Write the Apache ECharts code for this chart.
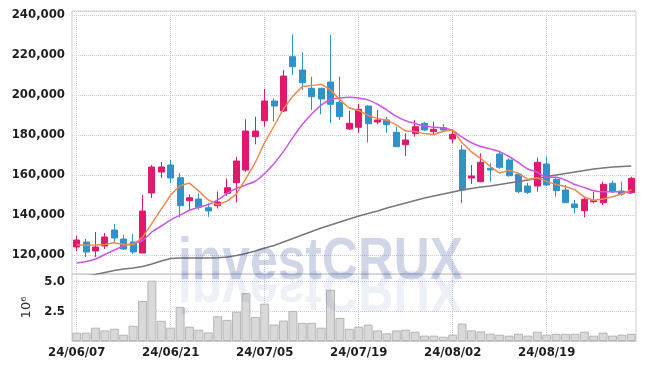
<!DOCTYPE html>
<html>
<head>
<meta charset="utf-8">
<script src="https://cdn.jsdelivr.net/npm/echarts@6/dist/echarts.min.js"></script>
<style>
html, body { margin: 0; padding: 0; background: #fff; }
#chart { width: 645px; height: 368px; }
</style>
</head>
<body>
<div id="chart"></div>
<script>
// 거래일 (24/06/07 ~ 24/08/30)
const dates = [
    '24/06/07', '24/06/10', '24/06/11', '24/06/12', '24/06/13', '24/06/14', '24/06/17', '24/06/18', '24/06/19', '24/06/20',
    '24/06/21', '24/06/24', '24/06/25', '24/06/26', '24/06/27', '24/06/28', '24/07/01', '24/07/02', '24/07/03', '24/07/04',
    '24/07/05', '24/07/08', '24/07/09', '24/07/10', '24/07/11', '24/07/12', '24/07/15', '24/07/16', '24/07/17', '24/07/18',
    '24/07/19', '24/07/22', '24/07/23', '24/07/24', '24/07/25', '24/07/26', '24/07/29', '24/07/30', '24/07/31', '24/08/01',
    '24/08/02', '24/08/05', '24/08/06', '24/08/07', '24/08/08', '24/08/09', '24/08/12', '24/08/13', '24/08/14', '24/08/16',
    '24/08/19', '24/08/20', '24/08/21', '24/08/22', '24/08/23', '24/08/26', '24/08/27', '24/08/28', '24/08/29', '24/08/30'
];

// 시가 / 종가 / 저가 / 고가
const openP = [
    124000, 126500, 122000, 124500, 132500, 128000, 126500, 121000, 151000, 161500,
    165000, 158650, 147150, 148000, 143650, 144650, 150850, 156150, 162500, 179150,
    187150, 197000, 192000, 219150, 212500, 203350, 203350, 206500, 196350, 183000,
    183850, 194500, 186500, 187500, 181350, 175150, 180650, 185850, 181650, 183650,
    178000, 172500, 158500, 156650, 163350, 170500, 167500, 160350, 154500, 154500,
    165500, 157850, 152500, 145500, 142150, 146650, 146150, 155850, 152000, 151150
];
const closeP = [
    127500, 121500, 124000, 129000, 128500, 123000, 121500, 142000, 164000, 164000,
    158500, 144650, 148650, 143850, 142000, 146500, 153650, 167000, 182000, 182000,
    197000, 194500, 209500, 214150, 206150, 199150, 198000, 195350, 189150, 185850,
    192850, 185650, 187500, 185150, 174150, 177500, 184150, 182500, 182850, 182500,
    180350, 152500, 159500, 166350, 162500, 163850, 159650, 151650, 151350, 166350,
    155000, 152150, 146150, 143650, 147850, 147150, 155350, 151650, 150500, 158350
];
const lowP = [
    122000, 119000, 119000, 123000, 126500, 122500, 120500, 121000, 148500, 158500,
    156000, 138800, 142500, 142500, 139100, 143300, 149650, 146350, 161650, 175350,
    184150, 186650, 191500, 210000, 202500, 192500, 190350, 185850, 187500, 182500,
    181150, 176150, 185350, 181150, 174000, 169500, 179150, 182000, 180000, 182000,
    175850, 145850, 155500, 156350, 156650, 163000, 159150, 150850, 150500, 151650,
    154500, 149150, 146000, 140850, 138850, 145850, 145000, 151000, 149650, 150800
];
const highP = [
    129500, 128000, 131500, 131000, 135500, 130000, 130500, 150000, 165000, 166500,
    167500, 161000, 150300, 150800, 145800, 151800, 158300, 169150, 187850, 189150,
    203000, 198350, 212500, 230350, 221350, 209150, 203500, 230000, 209150, 192150,
    195500, 194850, 192500, 189150, 184150, 180850, 187500, 186650, 186650, 185500,
    182500, 175000, 165000, 170850, 165850, 172150, 168350, 160850, 156150, 168650,
    169150, 159150, 155000, 147500, 149150, 151650, 156650, 157150, 156650, 159150
];

// 이동평균 (5일, 10일, 60일)
const ma5 = [
    125000, 124900, 125000, 125200, 126100, 125200, 125200, 128800, 135800, 142900,
    150000, 154630, 155960, 151930, 147530, 145130, 146930, 150600, 158230, 166230,
    176330, 184500, 193000, 199430, 204260, 204690, 205390, 202560, 197560, 193500,
    192240, 189770, 188200, 187400, 185060, 181990, 181690, 180690, 180230, 181900,
    182470, 176140, 171540, 168240, 164240, 160940, 162370, 160800, 157800, 158570,
    156800, 155300, 154200, 152660, 148960, 147390, 148030, 149130, 150500, 152600
];
const ma10 = [
    116000, 116750, 118000, 120250, 122500, 124500, 125750, 127250, 131500, 134500,
    137600, 139915, 142380, 143865, 145215, 147565, 150780, 153280, 155080, 156880,
    160730, 165715, 171800, 178830, 185245, 190510, 194945, 197780, 198495, 198880,
    198465, 197580, 195380, 192480, 189280, 187115, 185730, 184445, 183815, 183480,
    182230, 178915, 176115, 174235, 173070, 171705, 169255, 166170, 163020, 161405,
    158870, 158835, 157500, 155230, 153765, 152095, 151665, 151665, 151580, 150780
];
const ma60 = [
    108000, 109500, 110250, 111250, 112250, 113000, 113500, 114250, 115500, 117000,
    118250, 118500, 118500, 118500, 118500, 118600, 119000, 119750, 120750, 122000,
    123500, 124750, 126500, 128250, 130000, 131750, 133500, 135000, 136500, 138000,
    139500, 140750, 142000, 143500, 144750, 146000, 147250, 148500, 149500, 150500,
    151500, 152500, 153250, 154000, 154500, 155250, 156000, 156750, 157500, 158250,
    159250, 160000, 160750, 161500, 162250, 163000, 163500, 164000, 164250, 164500
];

// 거래량 (백만 주)
const volume = [
    0.70, 0.70, 1.12, 0.89, 1.03, 0.53, 1.28, 3.37, 5.08, 1.70,
    1.12, 2.87, 1.20, 0.95, 0.72, 2.08, 1.78, 2.47, 4.03, 2.03,
    3.14, 1.39, 1.72, 2.53, 1.53, 1.53, 1.12, 4.31, 1.95, 1.03,
    1.20, 1.37, 0.89, 0.64, 0.89, 0.95, 0.78, 0.45, 0.45, 0.36,
    0.53, 1.47, 0.89, 0.81, 0.61, 0.53, 0.45, 0.61, 0.45, 0.78,
    0.53, 0.61, 0.61, 0.61, 0.78, 0.45, 0.70, 0.45, 0.53, 0.61
];

const UP = '#e2186c';
const DOWN = '#2f93c9';
const labelFont = {
    fontFamily: '"DejaVu Sans Condensed", "DejaVu Sans", sans-serif',
    fontWeight: 'bold',
    fontSize: 13,
    color: '#1e1e1e'
};
const dotted = { color: '#c9cde0', type: 'dotted', width: 1 };

const chart = echarts.init(document.getElementById('chart'));
const option = {
    animation: false,
    grid: [
        { left: 72, right: 9, top: 11, height: 263, show: true, borderColor: '#cfcfcf', borderWidth: 1 },
        { left: 72, right: 9, top: 274, height: 67, show: true, borderColor: '#cfcfcf', borderWidth: 1 }
    ],
    xAxis: [
        {
            type: 'category',
            gridIndex: 0,
            data: dates,
            boundaryGap: true,
            axisLine: { show: false },
            axisTick: { show: false, interval: 9, alignWithLabel: true },
            axisLabel: { show: false, interval: 9 },
            splitLine: { show: true, interval: 9, alignWithLabel: true, lineStyle: dotted }
        },
        {
            type: 'category',
            gridIndex: 1,
            data: dates,
            boundaryGap: true,
            axisLine: { show: true, lineStyle: { color: '#cfcfcf' } },
            axisTick: { show: false, interval: 9, alignWithLabel: true },
            axisLabel: Object.assign({ interval: 9, margin: 5 }, labelFont),
            splitLine: { show: true, interval: 9, alignWithLabel: true, lineStyle: dotted }
        }
    ],
    yAxis: [
        {
            type: 'value',
            gridIndex: 0,
            min: 110500,
            max: 242000,
            splitNumber: 6,
            axisLine: { show: false },
            axisTick: { show: false },
            axisLabel: Object.assign({
                margin: 7,
                showMinLabel: false,
                showMaxLabel: false,
                formatter: function (v) { return v.toLocaleString('en-US'); }
            }, labelFont),
            splitLine: { show: true, lineStyle: dotted }
        },
        {
            type: 'value',
            gridIndex: 1,
            min: 0,
            max: 5.64,
            interval: 2.5,
            name: '10⁶',
            nameLocation: 'middle',
            nameRotate: 90,
            nameGap: 26,
            nameTextStyle: { fontFamily: 'DejaVu Sans', fontSize: 13, color: '#333' },
            axisLine: { show: false },
            axisTick: { show: false },
            axisLabel: Object.assign({
                margin: 7,
                showMinLabel: false,
                showMaxLabel: false,
                formatter: function (v) { return v.toFixed(1); }
            }, labelFont),
            splitLine: { show: true, lineStyle: dotted }
        }
    ],
    graphic: [
        {
            type: 'text',
            x: 178,
            y: 262,
            scaleX: 0.83,
            z: 100,
            silent: true,
            style: {
                text: 'investCRUX',
                fontFamily: '"Liberation Sans", Arial, sans-serif',
                fontWeight: 'bold',
                fontSize: 60,
                fill: 'rgba(40, 70, 150, 0.22)',
                verticalAlign: 'middle'
            }
        },
        {
            type: 'text',
            x: 178,
            y: 288,
            scaleX: 0.83,
            scaleY: -1,
            z: 100,
            silent: true,
            style: {
                text: 'investCRUX',
                fontFamily: '"Liberation Sans", Arial, sans-serif',
                fontWeight: 'bold',
                fontSize: 60,
                fill: 'rgba(40, 70, 150, 0.08)',
                verticalAlign: 'middle'
            }
        }
    ],
    series: [
        {
            type: 'candlestick',
            xAxisIndex: 0,
            yAxisIndex: 0,
            barWidth: '70%',
            data: dates.map(function (d, i) { return [openP[i], closeP[i], lowP[i], highP[i]]; }),
            itemStyle: { color: UP, color0: DOWN, borderColor: UP, borderColor0: DOWN, borderWidth: 1 }
        },
        {
            type: 'line', name: 'MA60', xAxisIndex: 0, yAxisIndex: 0, data: ma60,
            symbol: 'none', lineStyle: { color: '#777', width: 1.5 }, z: 3
        },
        {
            type: 'line', name: 'MA10', xAxisIndex: 0, yAxisIndex: 0, data: ma10, smooth: 0.3,
            symbol: 'none', lineStyle: { color: '#cc55e8', width: 1.5 }, z: 3
        },
        {
            type: 'line', name: 'MA5', xAxisIndex: 0, yAxisIndex: 0, data: ma5,
            symbol: 'none', lineStyle: { color: '#ee8a4c', width: 1.5 }, z: 4
        },
        {
            type: 'bar',
            xAxisIndex: 1,
            yAxisIndex: 1,
            data: volume,
            barCategoryGap: '5%',
            itemStyle: { color: '#d9d9d9', borderColor: '#b5b5b5', borderWidth: 1 }
        }
    ]
};
chart.setOption(option);
</script>
</body>
</html>
